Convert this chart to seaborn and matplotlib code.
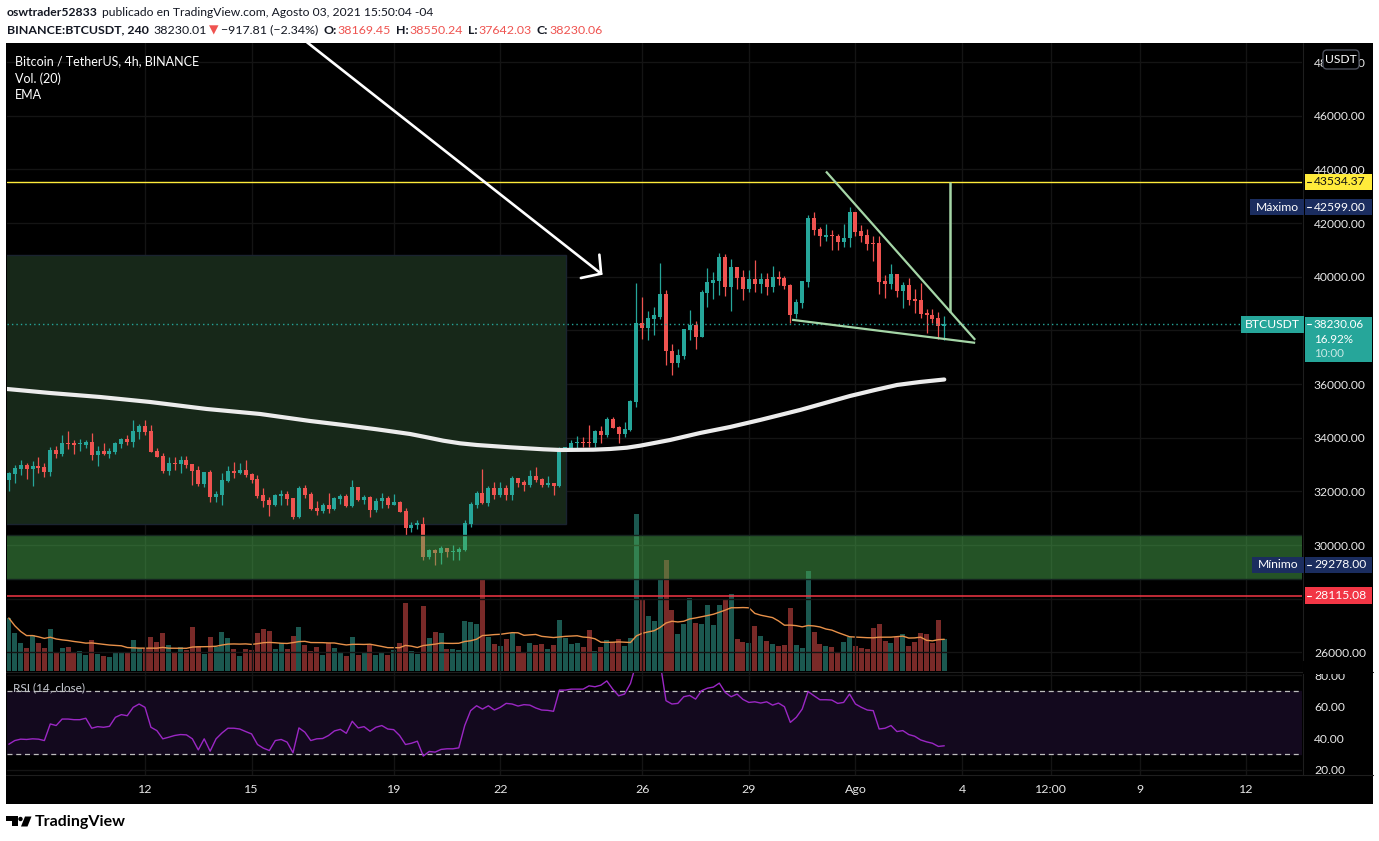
import numpy as np
import pandas as pd
import matplotlib
matplotlib.use("Agg")
import matplotlib.pyplot as plt
import matplotlib.patches as mpatches
import matplotlib.transforms as mtrans
from matplotlib.lines import Line2D
import seaborn as sns

# BINANCE:BTCUSDT 4h candles, first bar 2021-07-08 04:00
opens = [
    32420, 32660, 32830, 32980, 32830, 32950, 32910, 32720, 33540, 33400,
    33810, 33820, 33760, 33740, 33840, 33370, 33510, 33410, 33470, 33770,
    33960, 33840, 34220, 34440, 34250, 33510, 33320, 32760, 33060, 33020,
    33170, 33020, 32800, 32270, 32720, 31790, 31860, 32390, 32760, 32690,
    32800, 32650, 32460, 31860, 31680, 31490, 31830, 31900, 31750, 31040,
    32130, 31900, 31380, 31280, 31490, 31340, 31730, 31840, 31450, 32160,
    31680, 31800, 31300, 31630, 31750, 31490, 31610, 31270, 30640, 30760,
    30800, 29560, 29810, 29690, 29900, 29750, 29750, 29810, 30780, 31490,
    31940, 31560, 32120, 31860, 32120, 31860, 32500, 32350, 32240, 32570,
    32460, 32240, 32310, 32200, 33580, 33580, 33790, 33860, 33860, 33820,
    34250, 34100, 34700, 34400, 34150, 34290, 35340, 38290, 38110, 38430,
    38510, 39370, 37240, 36800, 37050, 38020, 38210, 37760, 39400, 39780,
    39850, 40750, 39630, 40380, 40000, 39560, 39930, 39740, 39930, 39630,
    40000, 39970, 39700, 38620, 39030, 39820, 42210, 41800, 41500, 41570,
    41530, 41290, 41430, 42430, 41700, 41570, 41270, 41270, 39850, 39740,
    40120, 39480, 39700, 39180, 39140, 38660, 38580, 38470, 38169.45]
highs = [
    32730, 32980, 33170, 33070, 33150, 33280, 33060, 33640, 33690, 34100,
    34250, 33920, 33960, 33920, 34180, 33690, 33810, 33630, 33860, 33990,
    34100, 34670, 34530, 34670, 34480, 33620, 33430, 33280, 33280, 33320,
    33320, 33020, 32950, 32720, 32800, 32010, 32690, 32950, 33100, 33060,
    33170, 32690, 32610, 32130, 31790, 31900, 32050, 32010, 31750, 32200,
    32240, 31980, 31640, 31580, 31930, 31780, 31900, 31900, 32420, 32160,
    31860, 31830, 31740, 31940, 31850, 31890, 31650, 31370, 30870, 30950,
    31050, 29870, 29870, 29960, 29900, 30000, 29930, 30930, 31620, 32030,
    32840, 32220, 32350, 32350, 32240, 32570, 32500, 32420, 32800, 32900,
    32500, 32570, 32310, 33670, 33670, 33920, 34070, 34030, 34480, 34290,
    34440, 34780, 34780, 34440, 34590, 35410, 39780, 39260, 38730, 38890,
    40530, 39520, 37500, 37310, 38060, 38770, 38340, 39520, 40340, 40190,
    40900, 40860, 40680, 40380, 40270, 40270, 40640, 40150, 40150, 40410,
    40230, 40040, 39740, 39160, 39850, 42320, 42430, 41870, 41980, 41760,
    41610, 41980, 42599, 42430, 41950, 41800, 41510, 41510, 40080, 40490,
    40120, 39820, 39970, 39560, 39780, 38810, 38810, 38700, 38550.24]
lows = [
    32030, 32320, 32610, 32460, 32210, 32700, 32550, 32590, 33260, 33330,
    33580, 33400, 33520, 33610, 33180, 32960, 33360, 33230, 33410, 33630,
    33730, 33670, 33970, 34120, 33470, 33280, 32690, 32610, 32800, 32690,
    32870, 32240, 32200, 32160, 31600, 31600, 31490, 32350, 32500, 32650,
    32540, 32310, 31750, 31420, 31080, 31450, 31490, 31490, 30970, 31000,
    31750, 31300, 31120, 31180, 31200, 31310, 31530, 31430, 31430, 31650,
    31530, 31050, 31240, 31380, 31390, 31490, 31220, 30370, 30490, 30620,
    29440, 29500, 29278, 29300, 29560, 29440, 29440, 29790, 30680, 31390,
    31550, 31460, 31710, 31800, 31680, 31680, 32170, 32010, 32180, 32340,
    32160, 32180, 31860, 32150, 33520, 33520, 33610, 33670, 33670, 33670,
    33820, 34040, 34350, 33820, 34040, 34270, 35160, 37690, 37630, 37840,
    38430, 36720, 36340, 36640, 36950, 37650, 37310, 37760, 38860, 39180,
    39330, 39290, 38730, 39560, 39140, 39440, 39440, 39410, 39330, 39440,
    39700, 39560, 38290, 38470, 38820, 39630, 41570, 41140, 41320, 40990,
    40990, 41100, 41100, 41530, 41290, 40990, 40580, 39370, 39220, 39550,
    39260, 38850, 38960, 38670, 38480, 37910, 38290, 37700, 37642.03]
closes = [
    32700, 32870, 32980, 32830, 32950, 32870, 32720, 33540, 33400, 33810,
    33770, 33740, 33780, 33840, 33360, 33510, 33400, 33510, 33810, 33960,
    33840, 34250, 34440, 34220, 33470, 33280, 32760, 33060, 33020, 33170,
    32980, 32760, 32270, 32720, 31790, 31900, 32420, 32760, 32690, 32800,
    32610, 32420, 31830, 31640, 31490, 31860, 31900, 31710, 31040, 32130,
    31860, 31340, 31270, 31490, 31340, 31750, 31840, 31450, 32160, 31680,
    31800, 31300, 31650, 31750, 31490, 31610, 31240, 30640, 30760, 30820,
    29560, 29810, 29690, 29900, 29750, 29790, 29850, 30810, 31530, 31940,
    31560, 32120, 31860, 32120, 31860, 32500, 32310, 32240, 32570, 32420,
    32240, 32310, 32200, 33580, 33640, 33810, 33860, 33820, 33820, 34250,
    34100, 34700, 34380, 34150, 34330, 35370, 38290, 38110, 38470, 38560,
    39370, 37220, 36800, 37090, 38060, 38210, 37760, 39440, 39820, 39890,
    40750, 39630, 40380, 39970, 39560, 39930, 39740, 39930, 39630, 40000,
    39930, 39670, 38580, 39070, 39850, 42210, 41760, 41510, 41570, 41510,
    41290, 41460, 42430, 41660, 41530, 41240, 41240, 39820, 39740, 40120,
    39480, 39700, 39140, 39110, 38620, 38560, 38430, 38150, 38230.06]
# volume in thousand BTC
volume_k = [
    5.27, 3.73, 2.77, 2.27, 3.53, 2.77, 2.27, 4.17, 1.77, 2.27,
    2.37, 1.87, 1.97, 1.57, 3.07, 1.67, 1.47, 1.37, 1.87, 1.77,
    1.77, 3.07, 2.27, 2.27, 3.37, 2.87, 3.77, 2.57, 1.77, 2.37,
    2.07, 4.37, 2.47, 1.67, 3.37, 2.37, 3.87, 3.27, 2.17, 1.47,
    2.17, 2.07, 3.77, 4.17, 3.97, 2.17, 2.77, 2.17, 3.47, 4.37,
    2.57, 1.97, 2.37, 1.57, 2.77, 2.27, 1.77, 1.47, 3.37, 1.57,
    1.87, 2.57, 1.57, 1.87, 1.57, 2.07, 2.77, 6.77, 1.97, 1.67,
    6.47, 3.27, 3.87, 3.77, 2.17, 2.17, 2.07, 4.97, 4.87, 4.67,
    9.17, 3.37, 2.67, 2.47, 3.17, 3.77, 2.47, 1.77, 2.77, 2.57,
    2.67, 2.17, 2.57, 5.07, 3.27, 2.67, 2.77, 2.37, 4.07, 1.97,
    2.37, 3.07, 2.87, 3.17, 2.47, 3.27, 15.67, 7.07, 5.47, 4.97,
    9.17, 11.07, 6.07, 3.67, 4.67, 7.27, 4.77, 4.67, 6.57, 4.57,
    6.57, 7.07, 7.67, 3.17, 2.87, 2.77, 4.47, 3.47, 2.97, 2.67,
    2.47, 2.57, 6.27, 2.57, 2.27, 9.97, 3.87, 2.67, 2.47, 2.37,
    1.77, 2.87, 3.37, 2.47, 2.27, 2.17, 4.27, 4.67, 2.97, 2.77,
    3.37, 3.67, 2.47, 2.87, 3.77, 3.67, 2.77, 5.07, 3.17]
rsi_vals = [
    36.3, 38.6, 39.5, 39.3, 39.7, 39.5, 38.6, 49.1, 48.1, 52.2,
    52.2, 51.8, 51.8, 52.7, 46.4, 47.4, 47.0, 47.6, 53.3, 55.0,
    54.3, 59.6, 61.7, 59.6, 47.0, 44.9, 39.7, 40.7, 41.8, 42.4,
    42.2, 39.7, 32.7, 39.7, 31.9, 39.7, 43.4, 46.4, 46.4, 45.9,
    44.3, 42.8, 36.1, 33.8, 32.3, 38.6, 39.3, 37.6, 30.9, 46.6,
    43.9, 38.6, 39.7, 39.9, 41.8, 44.7, 45.7, 43.2, 50.8, 46.6,
    47.4, 44.5, 47.0, 48.1, 45.9, 45.5, 41.8, 36.1, 36.9, 38.2,
    28.8, 31.7, 31.3, 33.0, 33.4, 33.4, 34.0, 48.1, 57.5, 60.6,
    58.5, 60.6, 57.9, 59.6, 62.1, 61.7, 60.4, 61.3, 61.0, 59.2,
    57.9, 57.7, 57.1, 70.5, 70.5, 71.1, 71.1, 71.1, 73.2, 72.6,
    73.6, 76.3, 71.1, 66.9, 68.0, 74.7, 88.0, 85.5, 86.5, 86.8,
    88.0, 63.8, 61.7, 62.1, 66.3, 67.1, 64.8, 70.1, 71.7, 72.4,
    74.9, 69.0, 66.3, 68.0, 64.6, 62.7, 63.1, 62.3, 63.1, 61.0,
    62.3, 60.0, 50.1, 53.3, 58.5, 69.6, 66.9, 64.4, 64.4, 64.2,
    62.1, 62.7, 68.0, 61.7, 59.6, 57.9, 57.5, 45.9, 46.4, 48.1,
    44.3, 44.9, 42.4, 41.35, 39.0, 37.8, 36.9, 34.9, 35.3]

# EMA line sampled along the chart (days since 1 Jul 2021, price)
ema_days = [7.115, 8.325, 9.733, 11.141, 12.737, 14.238, 15.645, 16.583, 17.523,
            18.461, 18.931, 19.398, 19.868, 20.338, 21.276, 22.213, 22.683, 23.621,
            24.091, 24.561, 24.936, 25.780, 26.625, 27.470, 28.314, 29.440, 30.144,
            30.848, 31.552, 32.171, 32.818, 33.5]
ema_vals = [35820, 35671, 35522, 35336, 35075, 34889, 34628, 34479, 34318,
            34143, 34020, 33893, 33796, 33733, 33647, 33573, 33547, 33558,
            33584, 33632, 33707, 33919, 34180, 34404, 34665, 35038, 35299,
            35560, 35784, 35970, 36081, 36174]

last_price = 38230.06
yellow_level = 43534.37
red_level = 28115.08
max_price = 42599.00
min_price = 29278.00

# drawings (days since 1 Jul 2021, price)
zone_box = [7.0, 22.85, 30782, 40826]
green_band = [28728, 30371]
arrow_shaft = ([15.56, 23.84], [48742, 40117])
arrow_head = ([23.79, 23.84, 23.27], [40826, 40117, 39956])
wedge_top = ([30.17, 34.37], [43925, 37652])
wedge_bottom = ([29.215, 34.37], [38399, 37540])
target_line = ([33.66, 33.66], [43534, 38698])

price_ticks = list(range(26000, 48001, 2000))
hidden_ticks = [28000, 38000]      # covered by the price labels on the chart
rsi_ticks = [20, 40, 60, 80]
time_ticks = [11, 14, 18, 21, 25, 28, 31, 34, 36.5, 39, 42]
time_labels = ["12", "15", "19", "22", "26", "29", "Ago", "4", "12:00", "9", "12"]

UP, DN = "#26a69a", "#ef5350"
VOL_UP, VOL_DN = "#1b5850", "#792a28"
TXT = "#e6e6e6"
DARK = "#131722"
GRID = "#141414"

sns.set_theme(style="dark")
plt.rcParams["font.family"] = ["Lato", "DejaVu Sans"]
plt.rcParams["axes.unicode_minus"] = False

df = pd.DataFrame({"open": opens, "high": highs, "low": lows, "close": closes,
                   "vol": volume_k, "rsi": rsi_vals})
df["t"] = pd.date_range("2021-07-08 04:00", periods=len(df), freq="4h")
df["x"] = (df["t"] - pd.Timestamp("2021-07-01")) / pd.Timedelta(days=1)
df["up"] = df["close"] >= df["open"]
df["vol_ma"] = df["vol"].rolling(20, min_periods=1).mean()

W, H = 1379, 841
fig = plt.figure(figsize=(W / 100, H / 100), dpi=100)
fig.patch.set_facecolor("white")
PX = mtrans.Affine2D().scale(1.0 / W, -1.0 / H).translate(0, 1) + fig.transFigure


def box(x0, y0, x1, y1):
    return [x0 / W, 1 - y1 / H, (x1 - x0) / W, (y1 - y0) / H]


fig.add_artist(mpatches.Rectangle((6, 43), 1367, 761, transform=PX,
                                  fc="black", ec="none", zorder=-1))

ax_vol = fig.add_axes(box(7, 43, 1302, 672))
ax = fig.add_axes(box(7, 43, 1302, 672), sharex=ax_vol)
ax_rsi = fig.add_axes(box(7, 673, 1302, 775), sharex=ax_vol)

X0, X1 = 7.115, 43.57
Y0, Y1 = 25273, 48714
ax_vol.set_xlim(X0, X1)
ax.set_ylim(Y0, Y1)
ax_vol.set_ylim(-0.13, 62.77)
ax_rsi.set_ylim(16.84, 81.3)
upx = (Y1 - Y0) / 629.0          # price per pixel
dpx = (X1 - X0) / 1295.0         # days per pixel

for a in (ax_vol, ax, ax_rsi):
    a.set_facecolor("black")
    for s in a.spines.values():
        s.set_visible(False)
ax.patch.set_alpha(0)

# volume
vcol = np.where(df["up"], VOL_UP, VOL_DN)
ax_vol.bar(df["x"], df["vol"], width=5 * dpx, color=vcol, linewidth=0, zorder=2)
sns.lineplot(data=df, x="x", y="vol_ma", ax=ax_vol, color="#e8914a", lw=1.0, zorder=3)

# grid
ax.set_axisbelow(True)
ax_rsi.set_xticks(time_ticks)
ax_rsi.set_xticklabels(time_labels)
ax.set_yticks(price_ticks)
ax.set_yticklabels(["" if v in hidden_ticks else f"{v:.2f}" for v in price_ticks])
ax.grid(True, color=GRID, lw=1)
ax_vol.grid(False)
ax_rsi.set_yticks(rsi_ticks)
ax_rsi.set_yticklabels([f"{v:.2f}" for v in rsi_ticks])
ax_rsi.grid(True, color=GRID, lw=1)

# zones
ax.add_patch(mpatches.Rectangle((zone_box[0], zone_box[2]), zone_box[1] - zone_box[0],
                                zone_box[3] - zone_box[2], fc="#172819", ec="#1a2330",
                                lw=1, zorder=1))

# candles
ccol = np.where(df["up"], UP, DN)
ax.vlines(df["x"], df["low"], df["high"], colors=ccol, lw=0.9, zorder=2.5)
body_lo = df[["open", "close"]].min(axis=1)
body_h = (df["close"] - df["open"]).abs().clip(lower=upx)
ax.bar(df["x"], body_h, bottom=body_lo, width=4 * dpx, color=ccol, linewidth=0, zorder=3)

# EMA
sns.lineplot(x=ema_days, y=ema_vals, ax=ax, color="#ececec", lw=3.0, zorder=3.5,
             solid_capstyle="round", solid_joinstyle="round", sort=False)

ax.add_patch(mpatches.Rectangle((X0 - 1, green_band[0]), X1 - X0 + 2,
                                green_band[1] - green_band[0], fc="#4caf50",
                                alpha=0.48, ec="none", zorder=4))
for lv in green_band:
    ax.axhline(lv, color="#15241f", lw=1, zorder=4.1)

ax.axhline(yellow_level, color="#ffeb3b", lw=1, zorder=4.5)
ax.axhline(red_level, color="#f23645", lw=1.1, zorder=4.5)
ax.axhline(last_price, color=UP, lw=1, ls=(0, (1, 2.2)), zorder=4.5)

ax.plot(*arrow_shaft, color="white", lw=1.9, solid_capstyle="round", zorder=5)
ax.plot(*arrow_head, color="white", lw=1.9, solid_capstyle="round",
        solid_joinstyle="miter", zorder=5)
for seg, lw in ((wedge_top, 1.6), (wedge_bottom, 1.6), (target_line, 1.8)):
    ax.plot(*seg, color="#a5d6a7", lw=lw, solid_capstyle="butt", zorder=5)

# RSI
ax_rsi.axhspan(30, 70, color="#13091e", zorder=0.6)
for lv in (70, 30):
    ax_rsi.axhline(lv, color="#bdbdbd", lw=0.9, ls=(0, (4, 3)), zorder=1)
sns.lineplot(data=df, x="x", y="rsi", ax=ax_rsi, color="#9b27c4", lw=1.0, zorder=2)

# axes ticks / labels
for a in (ax_vol, ax):
    a.tick_params(axis="x", length=0, labelbottom=False)
    a.set_xlabel("")
    a.set_ylabel("")
ax_vol.tick_params(axis="y", left=False, right=False, labelleft=False, labelright=False)
ax.yaxis.tick_right()
ax.tick_params(axis="y", length=0, pad=8.6, labelcolor=TXT, labelsize=8.7)
ax_rsi.yaxis.tick_right()
ax_rsi.tick_params(axis="y", length=0, pad=8.6, labelcolor=TXT, labelsize=8.7)
ax_rsi.tick_params(axis="x", length=0, pad=6.5, labelcolor=TXT, labelsize=8.9)
ax_rsi.set_xlabel("")
ax_rsi.set_ylabel("")

# separators
for xs, ys in (((6, 1373), (672.5, 672.5)), ((6, 1373), (775.5, 775.5)),
               ((1302.5, 1302.5), (43, 775))):
    fig.add_artist(Line2D(xs, ys, transform=PX, color="#1e1e1e", lw=0.8, zorder=1))

# the RSI pane cuts its top label in half
fig.add_artist(mpatches.Rectangle((1303, 661), 70, 13, transform=PX, fc="black",
                                  ec="none", zorder=6))

# price scale labels
blend = mtrans.blended_transform_factory(PX, ax.transData)


def scale_box(x0, x1, price, up_px, down_px, color):
    fig.add_artist(mpatches.Rectangle((x0, price - down_px * upx), x1 - x0,
                                      (up_px + down_px) * upx, transform=blend,
                                      fc=color, ec="none", zorder=7))


def scale_text(x, price, s, color, ha="left", alpha=1.0, dash=True, size=8.7):
    fig.text(x, price, s, transform=blend, color=color, ha=ha, va="center",
             fontsize=size, alpha=alpha, zorder=8)
    if dash:
        fig.add_artist(Line2D([1307, 1311], [price, price], transform=blend,
                              color=color, lw=0.8, zorder=8))


scale_box(1305, 1372, yellow_level, 8, 8, "#ffeb3b")
scale_text(1314, yellow_level, f"{yellow_level:.2f}", "#131313")

navy = "#1b2d5f"
scale_box(1250, 1304, max_price, 8, 8, navy)
scale_box(1305, 1372, max_price, 8, 8, navy)
fig.text(1277, max_price, "Máximo", transform=blend, color="white", ha="center",
         va="center", fontsize=8.7, zorder=8)
scale_text(1314, max_price, f"{max_price:.2f}", "white")

scale_box(1241, 1304, last_price, 8.5, 8.5, UP)
scale_box(1305, 1372, last_price, 7.5, 37.5, UP)
fig.text(1272.5, last_price, "BTCUSDT", transform=blend, color="white", ha="center",
         va="center", fontsize=8.7, zorder=8)
scale_text(1314, last_price, f"{last_price:.2f}", "white", size=8.4)
scale_text(1314, last_price - 15 * upx, "16.92%", "white", dash=False, size=8.4)
scale_text(1314, last_price - 29 * upx, "10:00", "white", alpha=0.75, dash=False, size=8.4)

scale_box(1252, 1304, min_price, 8, 8, navy)
scale_box(1305, 1372, min_price, 8, 8, navy)
fig.text(1278, min_price, "Mínimo", transform=blend, color="white", ha="center",
         va="center", fontsize=8.7, zorder=8)
scale_text(1314, min_price, f"{min_price:.2f}", "white")

scale_box(1305, 1372, red_level, 8.5, 8.5, "#f23645")
scale_text(1314, red_level, f"{red_level:.2f}", "white")

fig.add_artist(mpatches.FancyBboxPatch((1323, 50), 36, 19, transform=PX,
                                       boxstyle="round,pad=0,rounding_size=4",
                                       fc="black", ec="#4a4e5a", lw=1, zorder=7))
fig.text(1341, 59.5, "USDT", transform=PX, color="white", ha="center", va="center",
         fontsize=8.7, zorder=8)

# legend texts inside the chart
for yy, s in ((61, "Bitcoin / TetherUS, 4h, BINANCE"), (79, "Vol. (20)"), (95, "EMA")):
    fig.text(15, yy, s, transform=PX, color="white", fontsize=9, va="center", zorder=8)
fig.text(13, 688, "RSI (14, close)", transform=PX, color="#c9ccd4", fontsize=8.5,
         va="center", zorder=8)

# header
renderer = fig.canvas.get_renderer()


def write_run(x, y, parts, size=8.7):
    for s, color, weight, gap in parts:
        t = fig.text(x, y, s, transform=PX, color=color, fontweight=weight,
                     fontsize=size, va="center", ha="left")
        x += t.get_window_extent(renderer).width + gap


write_run(7, 13, [("oswtrader52833", DARK, "bold", 4),
                  ("publicado en TradingView.com, Agosto 03, 2021 15:50:04 -04", DARK, "normal", 0)])
write_run(7, 30, [("BINANCE:BTCUSDT, 240", DARK, "bold", 5), ("38230.01", DARK, "normal", 2),
                  ("▼", DN, "normal", 2), ("\u2212917.81 (\u22122.34%)", DARK, "normal", 5),
                  ("O:", DARK, "bold", 1), ("38169.45", DN, "normal", 5),
                  ("H:", DARK, "bold", 1), ("38550.24", DN, "normal", 5),
                  ("L:", DARK, "bold", 1), ("37642.03", DN, "normal", 5),
                  ("C:", DARK, "bold", 1), ("38230.06", DN, "normal", 0)], size=8.9)

# TradingView logo
fig.add_artist(mpatches.Rectangle((6, 816.5), 11.5, 4.5, transform=PX, fc="black", ec="none"))
fig.add_artist(mpatches.Rectangle((11.5, 816.5), 6, 10, transform=PX, fc="black", ec="none"))
fig.add_artist(mpatches.Circle((20.5, 819), 2.2, transform=PX, fc="black", ec="none"))
fig.add_artist(mpatches.Polygon([(25, 816.5), (31.5, 816.5), (27.5, 826.5), (21, 826.5)],
                                transform=PX, fc="black", ec="none"))
fig.text(35, 822, "TradingView", transform=PX, color="black", fontsize=11.5,
         fontweight="bold", va="center", ha="left")

fig.savefig("out.png", dpi=100, facecolor="white")
